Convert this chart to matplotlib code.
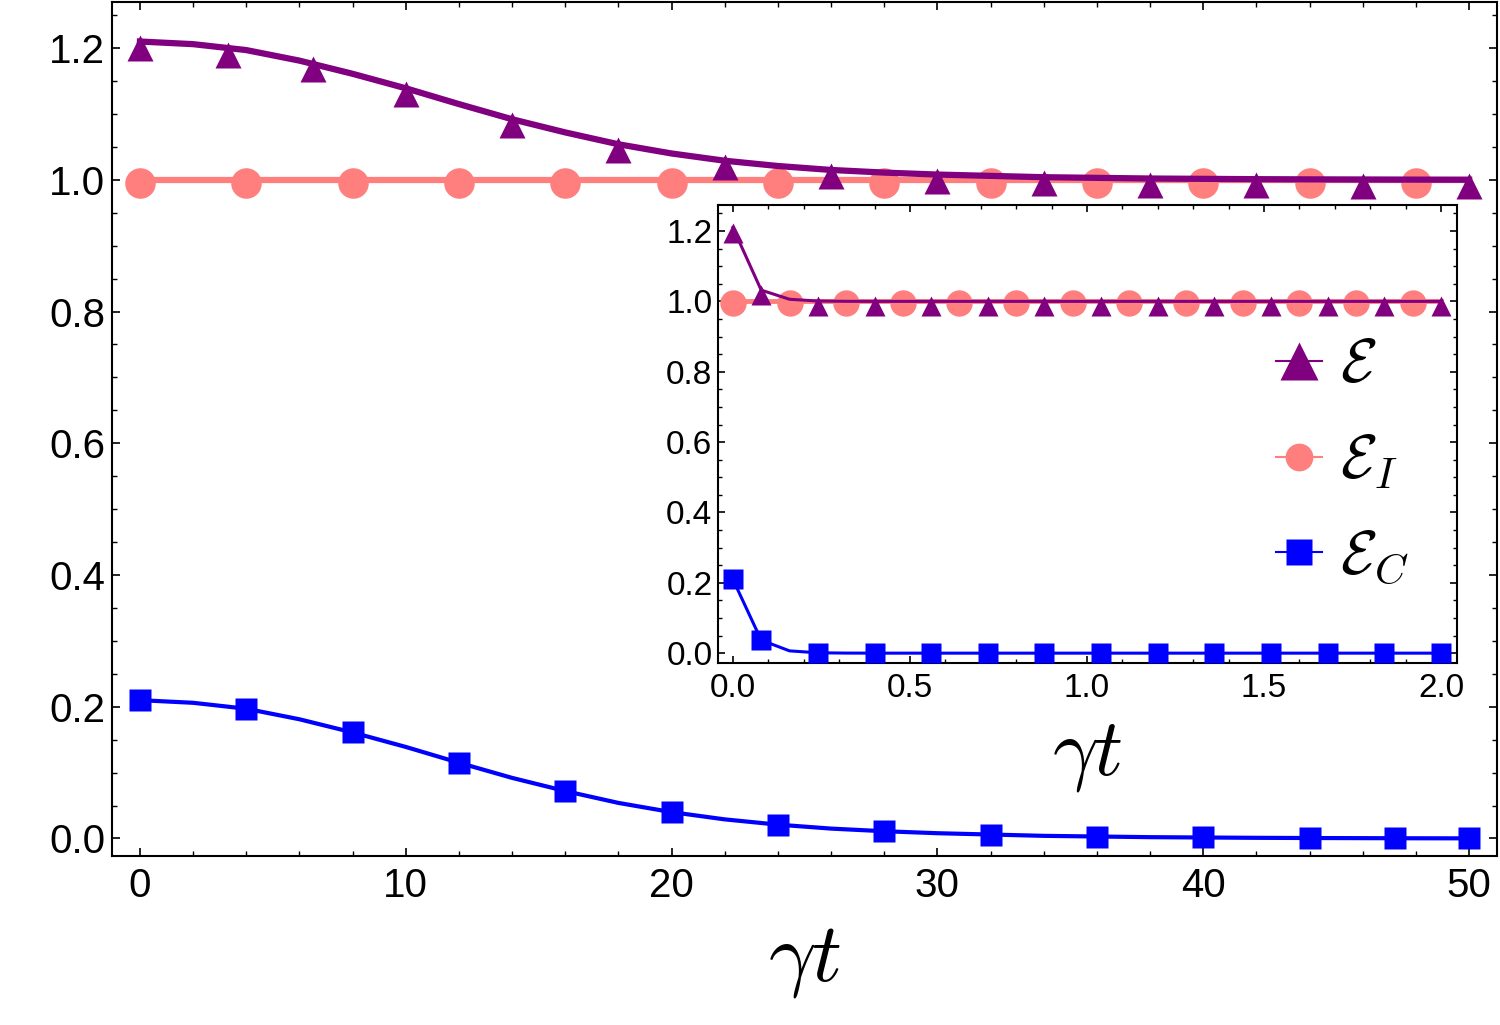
import numpy as np
import matplotlib
matplotlib.use('Agg')
import matplotlib.pyplot as plt
import matplotlib.transforms as mtransforms
from matplotlib.lines import Line2D
from matplotlib.ticker import MultipleLocator

# ---- main panel data ----
t_main = [0, 2, 4, 6, 8, 10, 12, 14, 16, 18, 20, 22, 24, 26, 28, 30, 32, 34, 36, 38,
          40, 42, 44, 46, 48, 50]
E_main = [1.210, 1.206, 1.197, 1.181, 1.161, 1.139, 1.115, 1.092, 1.072, 1.054,
          1.040, 1.029, 1.021, 1.015, 1.011, 1.008, 1.006, 1.004, 1.003, 1.002,
          1.0015, 1.001, 1.0007, 1.0005, 1.0003, 1.0002]
EI_main = [1.0] * 26
EC_main = [0.210, 0.206, 0.197, 0.181, 0.161, 0.139, 0.115, 0.092, 0.072, 0.054,
           0.040, 0.029, 0.021, 0.015, 0.011, 0.008, 0.006, 0.004, 0.003, 0.002,
           0.0015, 0.001, 0.0007, 0.0005, 0.0003, 0.0002]

# marker positions
tri_x = [0, 3.3, 6.5, 10, 14, 18, 22, 26, 30, 34, 38, 42, 46, 50]
tri_y = [1.210, 1.199, 1.177, 1.139, 1.092, 1.054, 1.029, 1.015, 1.008, 1.004,
         1.002, 1.001, 1.0005, 1.0002]
circ_x = [0, 4, 8, 12, 16, 20, 24, 28, 32, 36, 40, 44, 48]
circ_y = [1.0] * 13
sq_x = [0, 4, 8, 12, 16, 20, 24, 28, 32, 36, 40, 44, 47.2, 50]
sq_y = [0.210, 0.197, 0.161, 0.115, 0.072, 0.040, 0.021, 0.011, 0.006, 0.003,
        0.0015, 0.0007, 0.0003, 0.0002]

# ---- inset data ----
t_in = [0.00, 0.08, 0.16, 0.24, 0.32, 0.40, 0.48, 0.56, 0.64, 0.72, 0.80, 0.88, 0.96,
        1.04, 1.12, 1.20, 1.28, 1.36, 1.44, 1.52, 1.60, 1.68, 1.76, 1.84, 1.92, 2.00]
E_in = [1.210, 1.032, 1.006, 1.001, 1.0002] + [1.0] * 21
EI_in = [1.0] * 26
EC_in = [0.210, 0.037, 0.0065, 0.001, 0.0002] + [0.0] * 21

tri_in_x = [0, 0.08, 0.24, 0.40, 0.56, 0.72, 0.88, 1.04, 1.20, 1.36, 1.52, 1.68, 1.84, 2.00]
tri_in_y = [1.210, 1.032, 1.001, 1.0, 1.0, 1.0, 1.0, 1.0, 1.0, 1.0, 1.0, 1.0, 1.0, 1.0]
circ_in_x = [0, 0.16, 0.32, 0.48, 0.64, 0.80, 0.96, 1.12, 1.28, 1.44, 1.60, 1.76, 1.92]
circ_in_y = [1.0] * 13
sq_in_x = tri_in_x
sq_in_y = [0.210, 0.037, 0.001, 0.0, 0.0, 0.0, 0.0, 0.0, 0.0, 0.0, 0.0, 0.0, 0.0, 0.0]

purple = '#800080'
pink = '#FF7F7F'
blue = '#0000FF'

plt.rcParams['font.family'] = ['Liberation Sans', 'DejaVu Sans']
plt.rcParams['mathtext.fontset'] = 'cm'

fig = plt.figure(figsize=(15, 10.25), dpi=100)

# main axes
ax = fig.add_axes([112 / 1500, 1 - 856 / 1025, 1385 / 1500, 854 / 1025])
tri_shift = mtransforms.offset_copy(ax.transData, fig=fig, x=0, y=-6, units='dots')
circ_shift = mtransforms.offset_copy(ax.transData, fig=fig, x=0, y=-3, units='dots')

ax.plot(t_main, EI_main, color=pink, lw=4.5, zorder=2)
ax.plot(circ_x, circ_y, 'o', color=pink, ms=22, mec='none', transform=circ_shift, zorder=3)
ax.plot(t_main, E_main, color=purple, lw=4.5, zorder=4)
ax.plot(tri_x, tri_y, '^', color=purple, ms=19, mec='none', transform=tri_shift, zorder=5)
ax.plot(t_main, EC_main, color=blue, lw=3, zorder=4)
ax.plot(sq_x, sq_y, 's', color=blue, ms=16, mec='none', zorder=5)

ax.set_xlim(-1.05, 51.05)
ax.set_ylim(-0.0266, 1.270)
ax.xaxis.set_major_locator(MultipleLocator(10))
ax.xaxis.set_minor_locator(MultipleLocator(2))
ax.yaxis.set_major_locator(MultipleLocator(0.2))
ax.yaxis.set_minor_locator(MultipleLocator(0.05))
ax.xaxis.set_major_formatter(matplotlib.ticker.FormatStrFormatter('%d'))
ax.yaxis.set_major_formatter(matplotlib.ticker.FormatStrFormatter('%.1f'))
ax.tick_params(which='both', direction='in', top=True, right=True, labelsize=29)
ax.tick_params(which='major', length=6, width=1.2)
ax.tick_params(which='minor', length=3.5, width=1)
ax.tick_params(axis='x', pad=8)
ax.tick_params(axis='y', pad=5)
for s in ax.spines.values():
    s.set_linewidth(1.5)
ax.set_xlabel(r'$\gamma t$', fontsize=60, labelpad=12)

# inset axes
ax_in = fig.add_axes([718 / 1500, 1 - 663 / 1025, 739 / 1500, 458 / 1025])
tri_shift_in = mtransforms.offset_copy(ax_in.transData, fig=fig, x=0, y=-5, units='dots')
circ_shift_in = mtransforms.offset_copy(ax_in.transData, fig=fig, x=0, y=-2, units='dots')

ax_in.plot(t_in, EI_in, color=pink, lw=3.5, zorder=2)
ax_in.plot(circ_in_x, circ_in_y, 'o', color=pink, ms=19, mec='none', transform=circ_shift_in, zorder=3)
ax_in.plot(t_in, E_in, color=purple, lw=2.2, zorder=4)
ax_in.plot(tri_in_x, tri_in_y, '^', color=purple, ms=15, mec='none', transform=tri_shift_in, zorder=5)
ax_in.plot(t_in, EC_in, color=blue, lw=2.2, zorder=4)
ax_in.plot(sq_in_x, sq_in_y, 's', color=blue, ms=14, mec='none', zorder=5)

ax_in.set_xlim(-0.042, 2.045)
ax_in.set_ylim(-0.028, 1.274)
ax_in.xaxis.set_major_locator(MultipleLocator(0.5))
ax_in.xaxis.set_minor_locator(MultipleLocator(0.1))
ax_in.yaxis.set_major_locator(MultipleLocator(0.2))
ax_in.yaxis.set_minor_locator(MultipleLocator(0.05))
ax_in.xaxis.set_major_formatter(matplotlib.ticker.FormatStrFormatter('%.1f'))
ax_in.yaxis.set_major_formatter(matplotlib.ticker.FormatStrFormatter('%.1f'))
ax_in.tick_params(which='both', direction='in', top=True, right=True, labelsize=24)
ax_in.tick_params(which='major', length=5, width=1.2)
ax_in.tick_params(which='minor', length=3, width=1)
ax_in.tick_params(axis='x', pad=7)
ax_in.tick_params(axis='y', pad=4)
for s in ax_in.spines.values():
    s.set_linewidth(1.5)
ax_in.set_xlabel(r'$\gamma t$', fontsize=58, labelpad=10)

handles = [
    Line2D([], [], color=purple, lw=1.5, marker='^', ms=28, mec='none'),
    Line2D([], [], color=pink, lw=1.5, marker='o', ms=20, mec='none'),
    Line2D([], [], color=blue, lw=1.5, marker='s', ms=19, mec='none'),
]
labels = [r'$\mathcal{E}$', r'$\mathcal{E}_I$', r'$\mathcal{E}_C$']
ax_in.legend(handles, labels, loc='upper left', bbox_to_anchor=(1276 / 1500, 1 - 338 / 1025),
             bbox_transform=fig.transFigure, frameon=False, fontsize=44, handlelength=0.75,
             handletextpad=0.3, labelspacing=0.62, borderpad=0, borderaxespad=0)

fig.savefig('out.png', dpi=100)
